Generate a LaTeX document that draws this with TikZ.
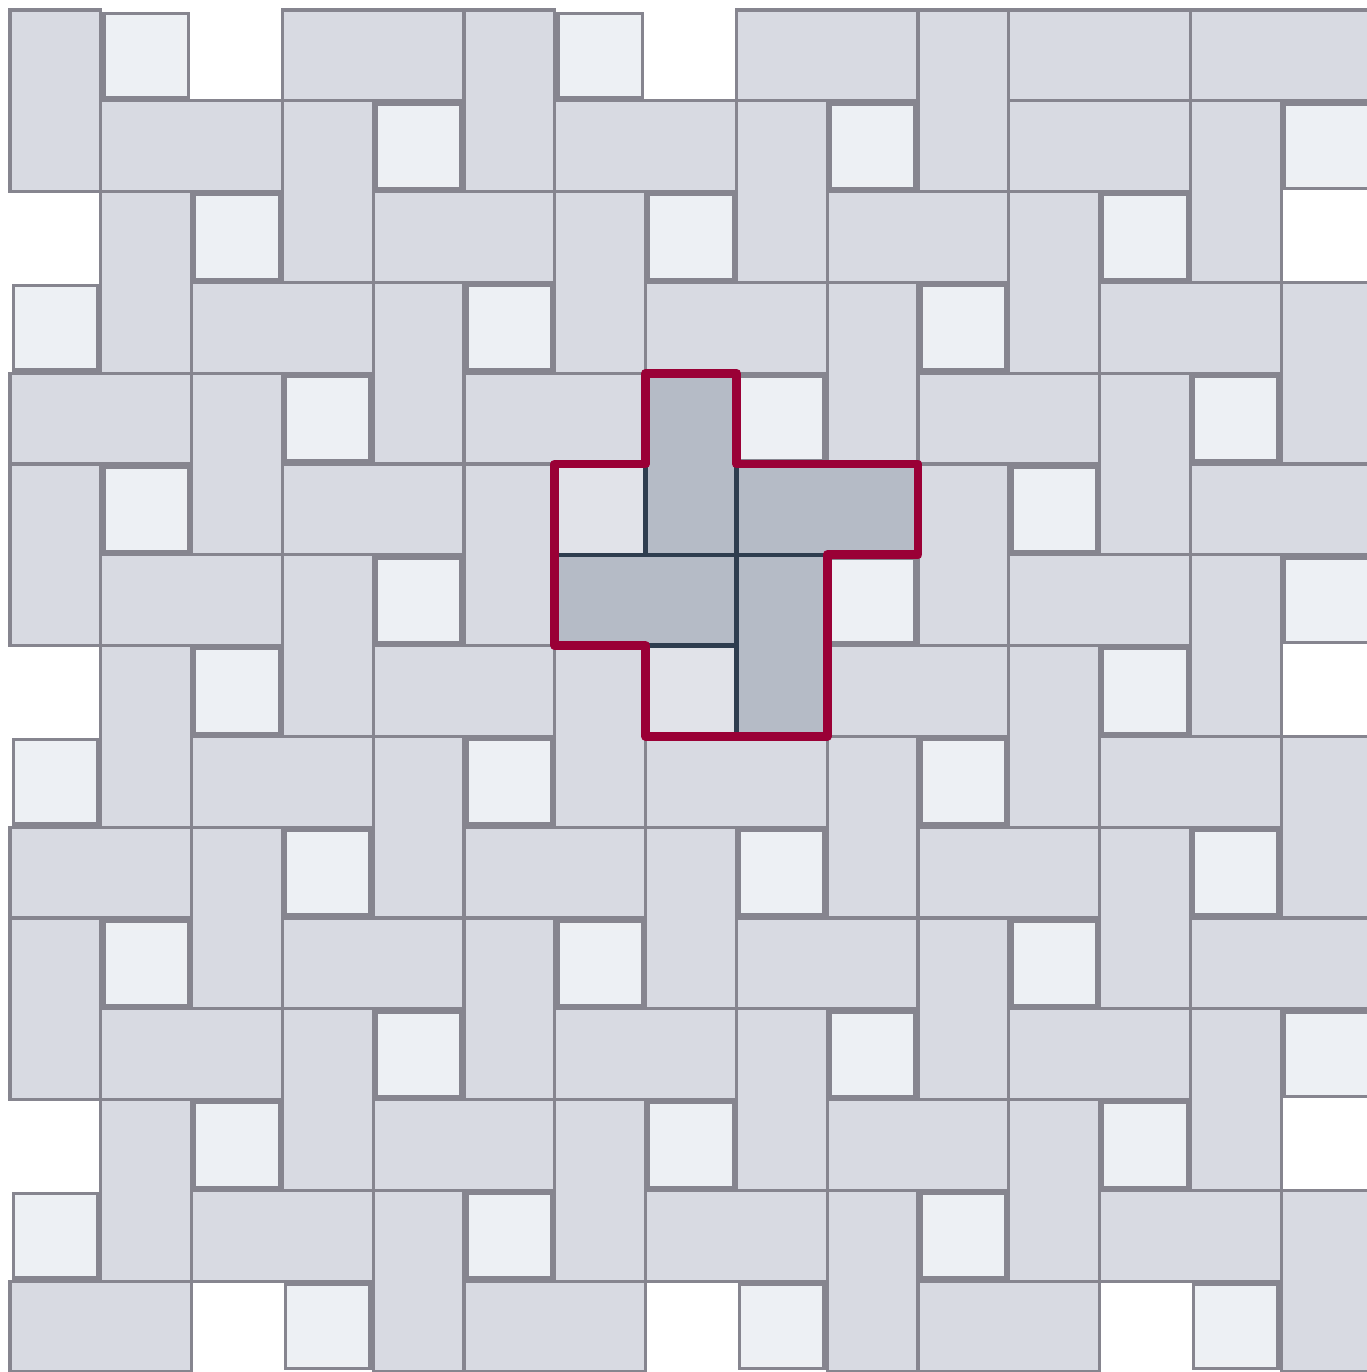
\documentclass[tikz,border=0pt]{standalone}
\usepackage{tikz}
\usepackage{xcolor}

\definecolor{tilegray}{HTML}{86858F}
\definecolor{brickfill}{HTML}{D8DAE2}
\definecolor{gapfill}{HTML}{EDF0F4}
\definecolor{hilfill}{HTML}{B5BBC6}
\definecolor{hilgapfill}{HTML}{E1E3E9}
\definecolor{navy}{HTML}{2E3D4F}
\definecolor{crimson}{HTML}{9A0036}

\tikzset{
  brick/.style={draw=tilegray, fill=brickfill, line width=1pt},
  gapsq/.style={draw=tilegray, fill=gapfill, line width=1pt},
  hilite/.style={draw=navy, fill=hilfill, line width=1.4pt},
  hilgap/.style={draw=navy, fill=hilgapfill, line width=1.4pt},
  outline/.style={draw=crimson, line width=2.8pt, line join=round}
}

\begin{document}
\begin{tikzpicture}[yscale=-1]
    \useasboundingbox (-0.110,-0.110) rectangle (14.934,15.0);
    \fill[white] (-0.110,-0.110) rectangle (14.934,15.0);
    \foreach \r in {0,...,14} {
      \foreach \c in {0,...,14} {
        \pgfmathtruncatemacro\k{(\r==0 && \c==11) ? 3 : mod(\c+2*\r,5)}
        \ifnum\k=0
          \ifnum\r<14 \filldraw[brick] (\c,\r) rectangle ++(1,2); \fi
        \fi
        \ifnum\k=1
          \filldraw[gapsq] (\c+0.035,\r+0.035) rectangle ++(0.93,0.93);
        \fi
        \ifnum\k=3
          \ifnum\c<14 \filldraw[brick] (\c,\r) rectangle ++(2,1); \fi
        \fi
      }
    }
    \filldraw[hilite] (7,4) rectangle (8,6);
    \filldraw[hilite] (8,5) rectangle (10,6);
    \filldraw[hilite] (6,6) rectangle (8,7);
    \filldraw[hilite] (8,6) rectangle (9,8);
    \filldraw[hilgap] (6,5) rectangle (7,6);
    \filldraw[hilgap] (7,7) rectangle (8,8);
    \draw[outline] (6,5) -- (7,5) -- (7,4) -- (8,4) -- (8,5) -- (10,5) -- (10,6)
      -- (9,6) -- (9,8) -- (7,8) -- (7,7) -- (6,7) -- cycle;
\end{tikzpicture}
\end{document}
